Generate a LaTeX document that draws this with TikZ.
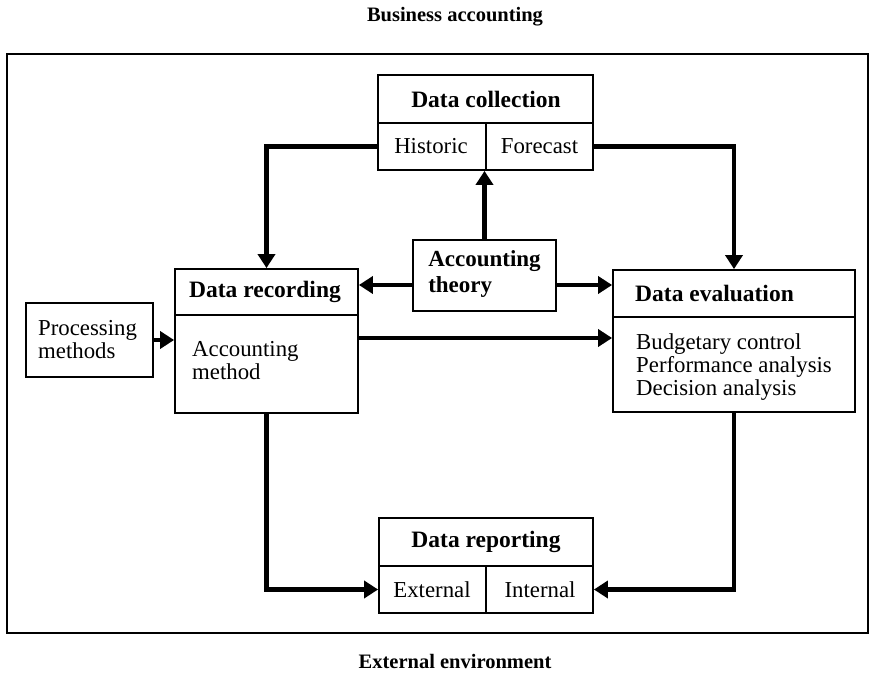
\documentclass[tikz,border=0pt]{standalone}
\usepackage{fontspec}
\setmainfont{Liberation Serif}
\usetikzlibrary{arrows.meta}
\tikzset{
  box/.style={draw, line width=1.8pt, inner sep=0pt},
  divider/.style={line width=1.1pt},
  arr/.style={line width=4.8pt, -{Triangle[width=17pt,length=14pt]}},
  ttl/.style={inner sep=0pt, font=\fontsize{23.5}{24}\selectfont\bfseries},
  txt/.style={inner sep=0pt, align=left, font=\fontsize{22.8}{23}\selectfont},
  outer/.style={inner sep=0pt, font=\fontsize{20.5}{24}\selectfont\bfseries},
}
\begin{document}
\begin{tikzpicture}[x=1pt,y=-1pt]
\useasboundingbox (0,0) rectangle (870,685);
\draw[line width=2pt] (7,54) rectangle (868,633);
\node[outer] (ba) at (455,17) {Business accounting};
\node[outer] (ee) at (455,661) {External environment};

% boxes
\node[box, minimum width=215pt, minimum height=95pt] (coll) at (485.5,122.5) {};
\node[box, minimum width=143pt, minimum height=71pt] (theory) at (484.5,275.5) {};
\node[box, minimum width=183pt, minimum height=144pt] (rec) at (266.5,341) {};
\node[box, minimum width=127pt, minimum height=74pt] (proc) at (89.5,340) {};
\node[box, minimum width=242pt, minimum height=142pt] (eval) at (734,341) {};
\node[box, minimum width=214pt, minimum height=95pt] (rep) at (486,565.5) {};

% dividers
\draw[divider] (coll.west |- 0,123) -- (coll.east |- 0,123);
\draw[divider] (486,123) -- (coll.south -| 486,0);
\draw[divider] (rec.west |- 0,315) -- (rec.east |- 0,315);
\draw[divider] (eval.west |- 0,317) -- (eval.east |- 0,317);
\draw[divider] (rep.west |- 0,566) -- (rep.east |- 0,566);
\draw[divider] (486,566) -- (rep.south -| 486,0);

% texts
\node[ttl] (collt) at (486,99) {Data collection};
\node[txt] (hist) at (431,146.5) {Historic};
\node[txt] (fore) at (539.5,146.5) {Forecast};
\node[ttl, align=left, font=\fontsize{23}{26}\selectfont\bfseries] (theoryt) at (484.5,274) {Accounting\\theory};
\node[ttl] (rect) at (265,292) {Data recording};
\node[txt, anchor=west] (rect2) at (192,360.5) {Accounting\\method};
\node[txt, anchor=west] (proct) at (38,339.5) {Processing\\methods};
\node[ttl, anchor=west] (evalt) at (635,293.5) {Data evaluation};
\node[txt, anchor=west] (evalb) at (636,367) {Budgetary control\\Performance analysis\\Decision analysis};
\node[ttl] (rept) at (486,542) {Data reporting};
\node[txt] (extl) at (432,589.5) {External};
\node[txt] (intl) at (540,589.5) {Internal};

% connectors
\draw[arr] (hist -| coll.west) -| (rec.north);
\draw[arr] (fore -| coll.east) -| (eval.north);
\draw[arr] (theory.north) -- (theory.north |- coll.south);
\draw[arr] ([yshift=-9.5pt]theory.west) -- ([yshift=-9.5pt]theory.west -| rec.east);
\draw[arr] ([yshift=-9.5pt]theory.east) -- ([yshift=-9.5pt]theory.east -| eval.west);
\draw[arr] (proc.east) -- (proc.east -| rec.west);
\draw[arr] ([yshift=3pt]rec.east) -- ([yshift=3pt]rec.east -| eval.west);
\draw[arr] (rec.south) |- (extl -| rep.west);
\draw[arr] (eval.south) |- (intl -| rep.east);
\end{tikzpicture}
\end{document}
